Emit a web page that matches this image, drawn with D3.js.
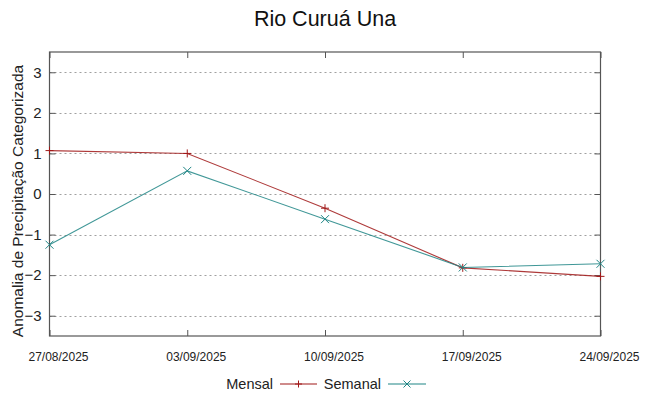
<!DOCTYPE html>
<html><head><meta charset="utf-8">
<script src="https://cdn.jsdelivr.net/npm/d3@7"></script>
<style>body{margin:0;background:#fff}svg{display:block}text{font-family:"Liberation Sans",Arial,sans-serif}</style>
</head><body><svg id="c" width="648" height="396"></svg>
<script>
const dates = ["27/08/2025","03/09/2025","10/09/2025","17/09/2025","24/09/2025"];
const mensal = [1.07, 1.0, -0.35, -1.82, -2.03];
const semanal = [-1.25, 0.57, -0.62, -1.81, -1.72];
const yTicks = [-3,-2,-1,0,1,2,3];
const title = "Rio Curuá Una";
const yTitle = "Anomalia de Precipitação Categorizada";

const svg = d3.select("#c");
const L=49.5, R=600.5, T=52, B=336;
const x = d3.scalePoint().domain(dates).range([L,R]);
const y = d3.scaleLinear().domain([-3.5,3.5]).range([B,T]);
const border="#555";

// grid
svg.append("g").selectAll("line").data(yTicks).join("line")
 .attr("x1",L).attr("x2",R).attr("y1",d=>Math.round(y(d))+0.5).attr("y2",d=>Math.round(y(d))+0.5)
 .attr("stroke","#a0a0a0").attr("stroke-dasharray","2,3").attr("stroke-width",1);

// axes
const gl = svg.append("g").attr("transform",`translate(${L},0)`).call(d3.axisLeft(y).tickValues(yTicks).tickSize(-6).tickPadding(8).tickFormat(d3.format("d")));
const gr = svg.append("g").attr("transform",`translate(${R},0)`).call(d3.axisRight(y).tickValues(yTicks).tickSize(-6).tickFormat(""));
const gb = svg.append("g").attr("transform",`translate(0,${B})`).call(d3.axisBottom(x).tickSize(-6).tickPadding(16));
const gt = svg.append("g").attr("transform",`translate(0,${T})`).call(d3.axisTop(x).tickSize(-6).tickFormat(""));
[gl,gr,gb,gt].forEach(g=>{g.select(".domain").remove();g.selectAll(".tick line").attr("stroke",border);});
gl.selectAll("text").attr("font-size",15).attr("fill","#222");
gb.selectAll("text").attr("font-size",12).attr("fill","#222").attr("dx",8.5);
svg.append("rect").attr("x",L).attr("y",T).attr("width",R-L).attr("height",B-T).attr("fill","none").attr("stroke",border).attr("stroke-width",1.2);

const series=[{name:"Mensal",vals:mensal,color:"#a01818",mark:"plus"},{name:"Semanal",vals:semanal,color:"#1f8585",mark:"cross"}];
const line=d3.line().x((d,i)=>x(dates[i])).y(d=>y(d));
function marker(g,cx,cy,type,color,s){
  const p = type==="plus" ? `M${cx-s},${cy}H${cx+s}M${cx},${cy-s}V${cy+s}` : `M${cx-s},${cy-s}L${cx+s},${cy+s}M${cx-s},${cy+s}L${cx+s},${cy-s}`;
  g.append("path").attr("d",p).attr("stroke",color).attr("stroke-width",1).attr("fill","none");
}
series.forEach(s=>{
  const g=svg.append("g");
  g.append("path").datum(s.vals).attr("d",line).attr("fill","none").attr("stroke",s.color).attr("stroke-width",1.1).attr("stroke-opacity",0.85);
  s.vals.forEach((v,i)=>marker(g,x(dates[i]),y(v),s.mark,s.color,4));
});

// title
svg.append("text").attr("x",325).attr("y",26).attr("text-anchor","middle").attr("font-size",21.5).attr("fill","#111").text(title);
svg.append("text").attr("transform",`translate(23,201) rotate(-90)`).attr("text-anchor","middle").attr("font-size",15.5).attr("fill","#222").text(yTitle);

// legend
const ly=384;
const leg=[{t:"Mensal",tx:273,x1:280,x2:317,s:series[0]},{t:"Semanal",tx:381,x1:388,x2:426,s:series[1]}];
leg.forEach(l=>{
  svg.append("text").attr("x",l.tx).attr("y",ly+5).attr("text-anchor","end").attr("font-size",14.5).attr("fill","#222").text(l.t);
  svg.append("line").attr("x1",l.x1).attr("x2",l.x2).attr("y1",ly).attr("y2",ly).attr("stroke",l.s.color).attr("stroke-width",1.1);
  marker(svg,(l.x1+l.x2)/2,ly,l.s.mark,l.s.color,3.5);
});
</script></body></html>
